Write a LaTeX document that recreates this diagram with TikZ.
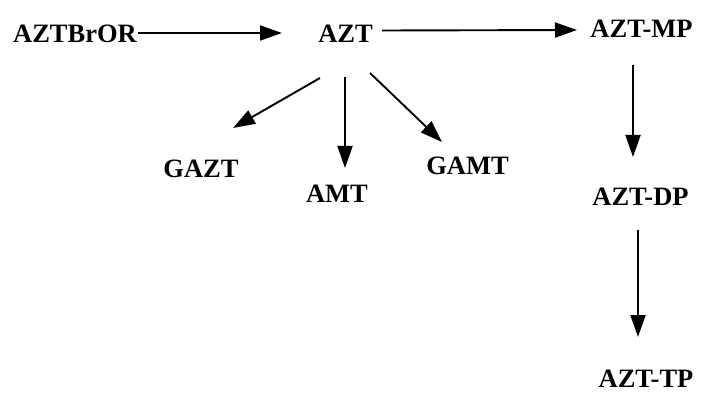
\documentclass[tikz,border=0pt]{standalone}
\usepackage{fontspec}
\setmainfont{Liberation Serif}
\usetikzlibrary{arrows.meta}
\begin{document}
\begin{tikzpicture}[x=1pt,y=-1pt,
  lbl/.style={inner sep=0pt,outer sep=0pt,font=\fontsize{26.5}{30}\selectfont\bfseries},
  arr/.style={line width=1.9pt,-{Triangle[length=22pt,width=15pt]}}]
\useasboundingbox (0,0) rectangle (704,393);
\node[lbl] (bror) at (75,34) {AZTBrOR};
\node[lbl] (azt)  at (345.5,34) {AZT};
\node[lbl] (mp)   at (641.5,28.5) {AZT-MP};
\node[lbl] (gazt) at (201,169) {GAZT};
\node[lbl] (amt)  at (337,194) {AMT};
\node[lbl] (gamt) at (467.5,166) {GAMT};
\node[lbl] (dp)   at (640.5,197) {AZT-DP};
\node[lbl] (tp)   at (646,379) {AZT-TP};
\draw[arr] ([shift={(63,-1)}]bror.center) -- ([shift={(-63.5,-1)}]azt.center);
\draw[arr] ([shift={(36.5,-3.5)}]azt.center) -- ([shift={(-64.5,1.5)}]mp.center);
\draw[arr] ([shift={(-25.5,44)}]azt.center) -- ([shift={(32,-41)}]gazt.center);
\draw[arr] ([shift={(-0.5,43)}]azt.center) -- ([shift={(8,-26)}]amt.center);
\draw[arr] ([shift={(24.5,39)}]azt.center) -- ([shift={(-25.5,-24)}]gamt.center);
\draw[arr] ([shift={(-8.5,36.5)}]mp.center) -- ([shift={(-7.5,-40)}]dp.center);
\draw[arr] ([shift={(-2.5,33)}]dp.center) -- ([shift={(-8,-42)}]tp.center);
\end{tikzpicture}
\end{document}
